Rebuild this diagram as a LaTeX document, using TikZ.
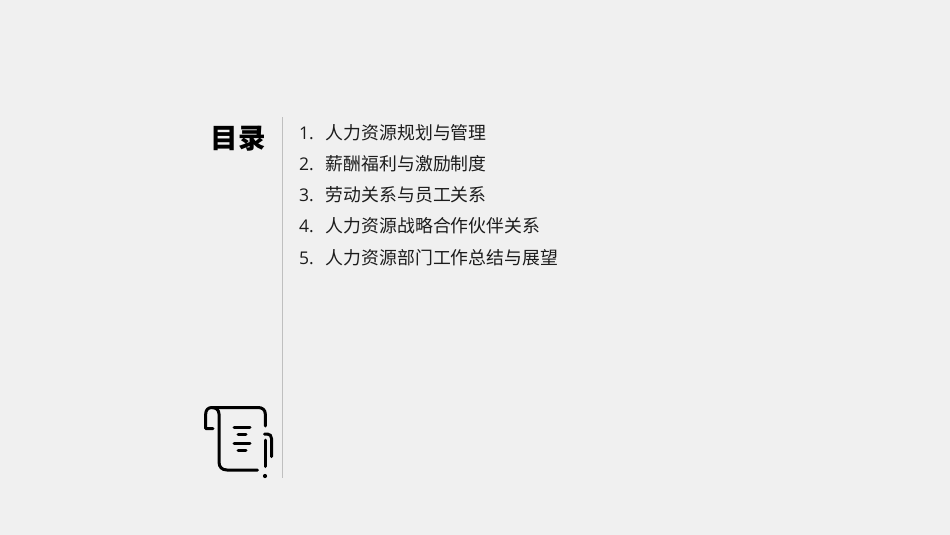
\documentclass[tikz,border=0pt]{standalone}
\usepackage{fontspec}
\setmainfont{Open Sans}
\newfontfamily\cjk{Noto Sans CJK SC}
\definecolor{bgc}{HTML}{F0F0F0}
\definecolor{txt}{HTML}{1C1C1C}
\definecolor{rulec}{HTML}{BFBFBF}
\tikzset{
 px/.style={x=1pt,y=-1pt},
 num/.style={anchor=base west,inner sep=0pt,text=txt,font=\fontsize{17.5}{20}\selectfont},
 item/.style={anchor=base west,inner sep=0pt,text=txt,font=\cjk\fontsize{17.85}{20}\selectfont},
 ico/.style={draw=black,line width=3pt,line cap=round,line join=round}
}
\begin{document}
\begin{tikzpicture}[px]
\path[fill=bgc] (0,0) rectangle (950,535);
\useasboundingbox (0,0) rectangle (950,535);
\node[anchor=base west,inner sep=0pt,text=black,font=\cjk\bfseries\fontsize{27.5}{30}\selectfont] (title) at (210.5,148.5) {目录};
\coordinate (rt) at (282.5,117);
\coordinate (rb) at (282.5,478);
\draw[rulec,line width=0.9pt] (rt) -- (rb);
\node[num] (n1) at (299,139) {1.};
\node[num] (n2) at (299,170.2) {2.};
\node[num] (n3) at (299,201.4) {3.};
\node[num] (n4) at (299,232.8) {4.};
\node[num] (n5) at (299,264) {5.};
\node[item] (t1) at (325.7,139) {人力资源规划与管理};
\node[item] (t2) at (325.7,170.2) {薪酬福利与激励制度};
\node[item] (t3) at (325.7,201.4) {劳动关系与员工关系};
\node[item] (t4) at (325.7,232.8) {人力资源战略合作伙伴关系};
\node[item] (t5) at (325.7,264) {人力资源部门工作总结与展望};
% icon
\draw[ico] (213,428.5) -- (205.7,428.5) -- (205.7,414) .. controls (205.7,410) and (208,407.5) .. (212,407.5) -- (258,407.5) .. controls (262.5,407.5) and (265.3,410) .. (265.3,414) -- (265.3,426);
\draw[ico] (212,407.5) .. controls (216,407.5) and (219,410) .. (219,414) -- (219,462) .. controls (219,467) and (222,470) .. (227,470) -- (257.5,470);
\draw[ico] (234,427.7) -- (250,427.7);
\draw[ico] (238,434.5) -- (246,434.5);
\draw[ico] (234,443) -- (250,443);
\draw[ico] (238,450) -- (246,450);
\draw[ico] (264.5,434) -- (267.5,434) .. controls (270,434) and (271.5,436) .. (271.5,438.5) -- (271.5,456.5);
\draw[ico] (265,440) -- (265,466.5);
\fill[black] (265,476) circle (2.1pt);
\end{tikzpicture}
\end{document}
